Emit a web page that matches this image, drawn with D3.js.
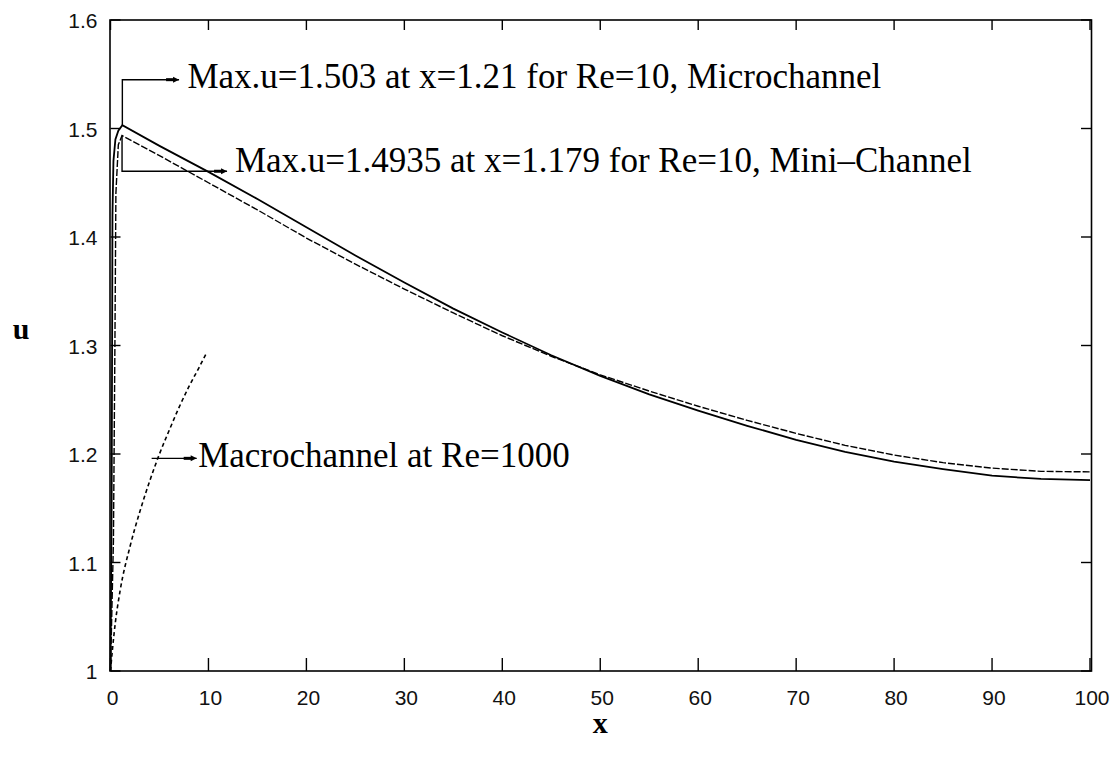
<!DOCTYPE html>
<html>
<head>
<meta charset="utf-8">
<script src="https://cdn.jsdelivr.net/npm/d3@7"></script>
<style>
    body { margin: 0; background: #fff; }
    .tick-label { font-family: "Liberation Sans", Arial, sans-serif; font-size: 21px; fill: #111; }
    .note { font-family: "Liberation Serif", "Times New Roman", serif; font-size: 35px; fill: #000; }
    .axis-title { font-family: "Liberation Serif", "Times New Roman", serif; font-size: 30px; font-weight: bold; fill: #000; }
</style>
</head>
<body>
<div id="chart"></div>
<script>

// x positions and u values
let microX = [0, 0.12, 0.2, 0.3, 0.5, 0.8, 1.21, 5, 10, 15, 20, 25, 30, 35, 40, 45, 50, 55, 60, 65, 70, 75, 80, 85, 90, 95, 100];
let microU = [1.0, 1.16, 1.42, 1.47, 1.49, 1.498, 1.503, 1.484, 1.460, 1.435, 1.409, 1.383, 1.358, 1.334, 1.312, 1.291, 1.272, 1.255, 1.240, 1.226, 1.213, 1.202, 1.193, 1.186, 1.180, 1.177, 1.176];

let miniX = [0, 0.3, 0.45, 0.55, 0.8, 1.179, 5, 10, 15, 20, 25, 30, 35, 40, 45, 50, 55, 60, 65, 70, 75, 80, 85, 90, 95, 100];
let miniU = [1.0, 1.12, 1.3, 1.44, 1.485, 1.4935, 1.475, 1.450, 1.425, 1.399, 1.375, 1.352, 1.330, 1.309, 1.290, 1.273, 1.258, 1.244, 1.231, 1.219, 1.208, 1.199, 1.192, 1.187, 1.184, 1.1835];

let macroX = [0, 0.2, 0.5, 1, 2, 3, 4, 5, 6, 7, 8, 9, 9.8];
let macroU = [1.0, 1.02, 1.045, 1.075, 1.115, 1.147, 1.175, 1.2, 1.222, 1.243, 1.262, 1.279, 1.293];

let xTicks = [0, 10, 20, 30, 40, 50, 60, 70, 80, 90, 100];
let yTicks = [1, 1.1, 1.2, 1.3, 1.4, 1.5, 1.6];

// annotations: curve point, elbow level, arrow end, text start, baseline (data units)
let notes = [
    {text: "Max.u=1.503 at x=1.21 for Re=10, Microchannel", px: 1.21, pu: 1.503, elbowU: 1.545, endX: 7.0, textX: 7.85, textU: 1.5375},
    {text: "Max.u=1.4935 at x=1.179 for Re=10, Mini\u2013Channel", px: 1.179, pu: 1.4935, elbowU: 1.4606, endX: 11.9, textX: 12.7, textU: 1.4603},
    {text: "Macrochannel at Re=1000", px: 4.2, pu: 1.196, elbowU: 1.196, endX: 8.8, textX: 8.95, textU: 1.188}
];

let width = 1118, height = 760;

let svg = d3.select("#chart").append("svg")
    .attr("width", width)
    .attr("height", height);

let x = d3.scaleLinear().domain([0, 100]).range([110.5, 1090]);
let y = d3.scaleLinear().domain([1, 1.6]).range([671, 20]);

// frame
svg.append("rect")
    .attr("x", x(0) - 0.5)
    .attr("y", y(1.6))
    .attr("width", x(100) - x(0) + 2)
    .attr("height", y(1) - y(1.6))
    .attr("fill", "none")
    .attr("stroke", "#000")
    .attr("stroke-width", 1.6);

// inward ticks on all four sides
let ticks = svg.append("g").attr("stroke", "#000").attr("stroke-width", 1.4);
xTicks.forEach(t => {
    ticks.append("line").attr("x1", x(t)).attr("x2", x(t)).attr("y1", y(1)).attr("y2", y(1) - 13);
    ticks.append("line").attr("x1", x(t)).attr("x2", x(t)).attr("y1", y(1.6)).attr("y2", y(1.6) + 10);
});
yTicks.forEach(t => {
    ticks.append("line").attr("x1", x(0)).attr("x2", x(0) + 10).attr("y1", y(t)).attr("y2", y(t));
    ticks.append("line").attr("x1", x(100) + 1.5).attr("x2", x(100) - 9).attr("y1", y(t)).attr("y2", y(t));
});

// tick labels
svg.selectAll(".xl").data(xTicks).enter().append("text")
    .attr("class", "tick-label")
    .attr("x", d => x(d) + 2)
    .attr("y", y(1) + 34)
    .attr("text-anchor", "middle")
    .text(d => d);

svg.selectAll(".yl").data(yTicks).enter().append("text")
    .attr("class", "tick-label")
    .attr("x", x(0) - 13)
    .attr("y", d => y(d) + 8)
    .attr("text-anchor", "end")
    .text(d => d === 1 ? "1" : d3.format(".1f")(d));

// axis titles
svg.append("text").attr("class", "axis-title")
    .attr("x", 21).attr("y", 339)
    .attr("text-anchor", "middle")
    .text("u");
svg.append("text").attr("class", "axis-title")
    .attr("x", x(50)).attr("y", 733)
    .attr("text-anchor", "middle")
    .text("x");

// curves
let line = d3.line()
    .x(d => x(d[0]))
    .y(d => y(d[1]));

svg.append("path")
    .datum(d3.zip(miniX, miniU))
    .attr("d", line)
    .attr("fill", "none")
    .attr("stroke", "#000")
    .attr("stroke-width", 1.4)
    .attr("stroke-dasharray", "7,2");

svg.append("path")
    .datum(d3.zip(microX, microU))
    .attr("d", line)
    .attr("fill", "none")
    .attr("stroke", "#000")
    .attr("stroke-width", 1.8);

svg.append("path")
    .datum(d3.zip(macroX, macroU))
    .attr("d", line.curve(d3.curveMonotoneX))
    .attr("fill", "none")
    .attr("stroke", "#000")
    .attr("stroke-width", 1.6)
    .attr("stroke-dasharray", "4,3");

// annotation arrows
let ann = svg.append("g");
notes.forEach(n => {
    ann.append("path")
        .attr("d", `M${x(n.px)},${y(n.pu)} L${x(n.px)},${y(n.elbowU)} L${x(n.endX)},${y(n.elbowU)}`)
        .attr("fill", "none")
        .attr("stroke", "#000")
        .attr("stroke-width", 1.4);
    // small head: thick bar then point
    let ex = x(n.endX), ey = y(n.elbowU);
    ann.append("rect")
        .attr("x", ex - 13).attr("y", ey - 1.5)
        .attr("width", 8).attr("height", 3)
        .attr("fill", "#000");
    ann.append("path")
        .attr("d", `M${ex - 6},${ey - 3} L${ex},${ey} L${ex - 6},${ey + 3} Z`)
        .attr("fill", "#000");
    ann.append("text")
        .attr("class", "note")
        .attr("x", x(n.textX))
        .attr("y", y(n.textU))
        .text(n.text);
});

</script>
</body>
</html>
